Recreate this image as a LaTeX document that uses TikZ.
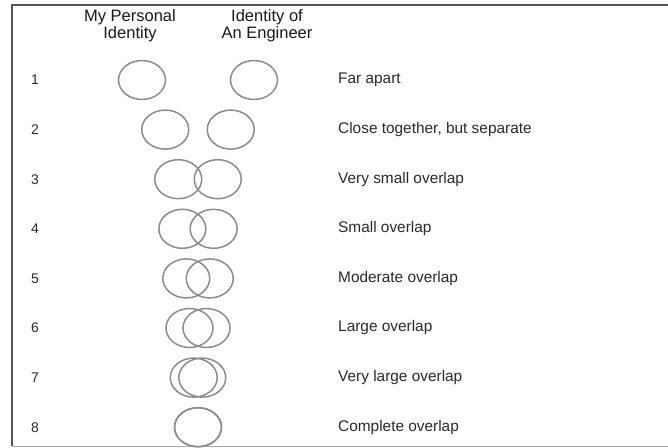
\documentclass[tikz,border=0pt]{standalone}
\usepackage{fontspec}
\setmainfont{Liberation Sans}
\usetikzlibrary{shapes.geometric}
\definecolor{txt}{HTML}{2A2A2A}
\definecolor{ring}{HTML}{8C8C8C}
\definecolor{frame}{HTML}{555555}
\definecolor{frameb}{HTML}{AAAAAA}
\begin{document}
\begin{tikzpicture}[x=1pt,y=-1pt,
  idring/.style={ellipse,draw=ring,line width=1.5pt,minimum width=47pt,minimum height=39pt,inner sep=0pt},
  rownum/.style={text=txt,font=\fontsize{14}{16}\selectfont,inner sep=0pt},
  rowlabel/.style={text=txt,font=\fontsize{15.4}{18}\selectfont,anchor=west,inner sep=0pt},
  header/.style={text=black!90,font=\fontsize{16.5}{17.5}\selectfont,align=center,inner sep=0pt,anchor=north}]
\useasboundingbox (0,0) rectangle (668,447);
\fill[white] (0,0) rectangle (668,447);
\draw[frame,line width=2pt] (12,446) -- (12,5) -- (668,5);
\draw[frameb,line width=1pt] (12,446) -- (668,446);
\node[header] (h1) at (130,9) {My Personal\\Identity};
\node[header] (h2) at (267,9) {Identity of\\An Engineer};
\foreach \i/\d/\lab in {1/56/Far apart,2/32.75/{Close together, but separate},3/19.75/Very small overlap,4/15.65/Small overlap,5/11.75/Moderate overlap,6/8.5/Large overlap,7/4.25/Very large overlap,8/0/Complete overlap}{
  \pgfmathsetmacro\yy{80+49.6*(\i-1)}
  \node[rownum] (n\i) at (35,\yy) {\i};
  \node[idring] (p\i) at (198-\d,\yy) {};
  \node[idring] (e\i) at (198+\d,\yy) {};
  \node[rowlabel] (l\i) at (338,\yy) {\lab};
}
\end{tikzpicture}
\end{document}
